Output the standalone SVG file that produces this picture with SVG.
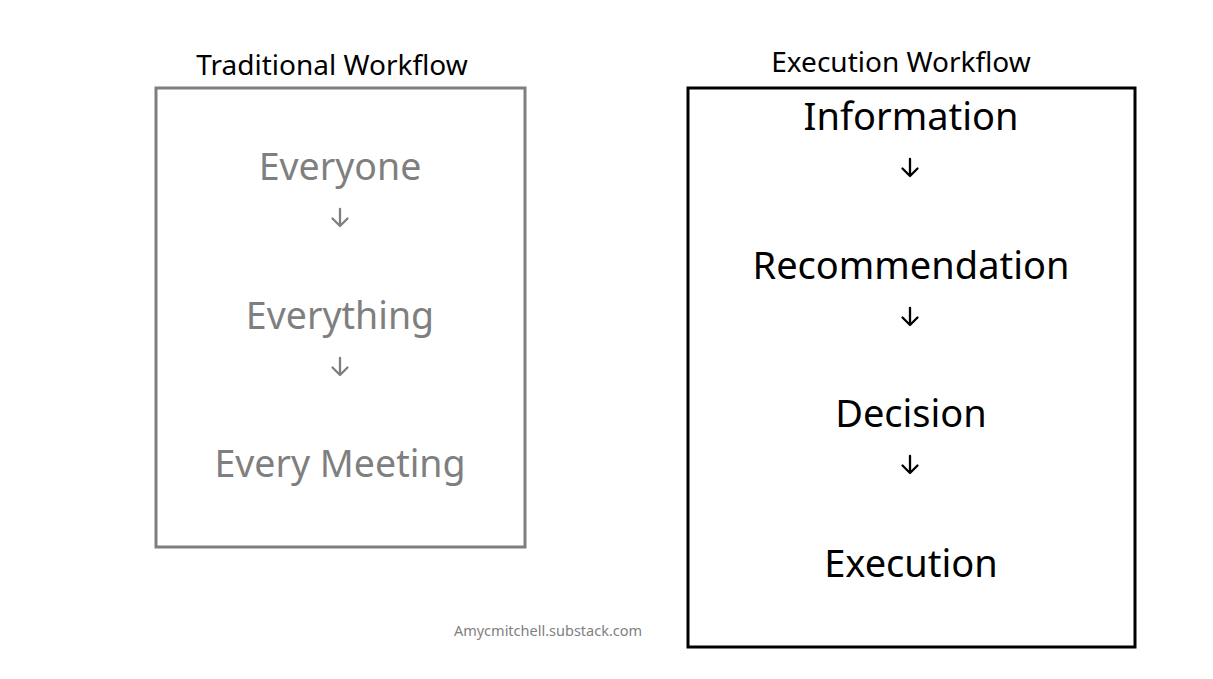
<svg xmlns="http://www.w3.org/2000/svg" width="1213" height="679" viewBox="0 0 1213 679">
<style>
text{font-family:"Noto Sans","Liberation Sans",sans-serif;text-anchor:middle}
.title{font-size:28px;fill:#000}
.g{font-size:37.5px;fill:#7f7f7f}
.b{font-size:38px;fill:#000}
.wm{font-size:14.5px;fill:#808080}
.ag{fill:none;stroke:#7f7f7f;stroke-width:2.3;stroke-linecap:round;stroke-linejoin:round}
.ab{fill:none;stroke:#000;stroke-width:2.3;stroke-linecap:round;stroke-linejoin:round}
</style>
<rect width="1213" height="679" fill="#fff"/>
<g id="traditional">
<text class="title" x="332" y="75">Traditional Workflow</text>
<rect x="156" y="88" width="369" height="459" fill="none" stroke="#7f7f7f" stroke-width="3"/>
</g>
<g id="everyone"><text class="g" x="340" y="180">Everyone</text></g>
<g id="everything"><text class="g" x="340" y="329">Everything</text></g>
<g id="every-meeting"><text class="g" x="340" y="477">Every Meeting</text></g>
<g id="execution-workflow">
<text class="title" x="901" y="72">Execution Workflow</text>
<rect x="688" y="88" width="447" height="559" fill="none" stroke="#000" stroke-width="3"/>
</g>
<g id="information"><text class="b" x="911" y="130">Information</text></g>
<g id="recommendation"><text class="b" x="911" y="279">Recommendation</text></g>
<g id="decision"><text class="b" x="911" y="427">Decision</text></g>
<g id="execution"><text class="b" x="911" y="577">Execution</text></g>
<g id="connectors">
<path class="ag" d="M340 209v17M332.5 218.5l7.5 7.5 7.5-7.5"/>
<path class="ag" d="M340 358v17M332.5 367.5l7.5 7.5 7.5-7.5"/>
<path class="ab" d="M910 159v17M902.5 168.5l7.5 7.5 7.5-7.5"/>
<path class="ab" d="M910 308v17M902.5 317.5l7.5 7.5 7.5-7.5"/>
<path class="ab" d="M910 456v17M902.5 465.5l7.5 7.5 7.5-7.5"/>
</g>
<text class="wm" x="548" y="636">Amycmitchell.substack.com</text>
</svg>
